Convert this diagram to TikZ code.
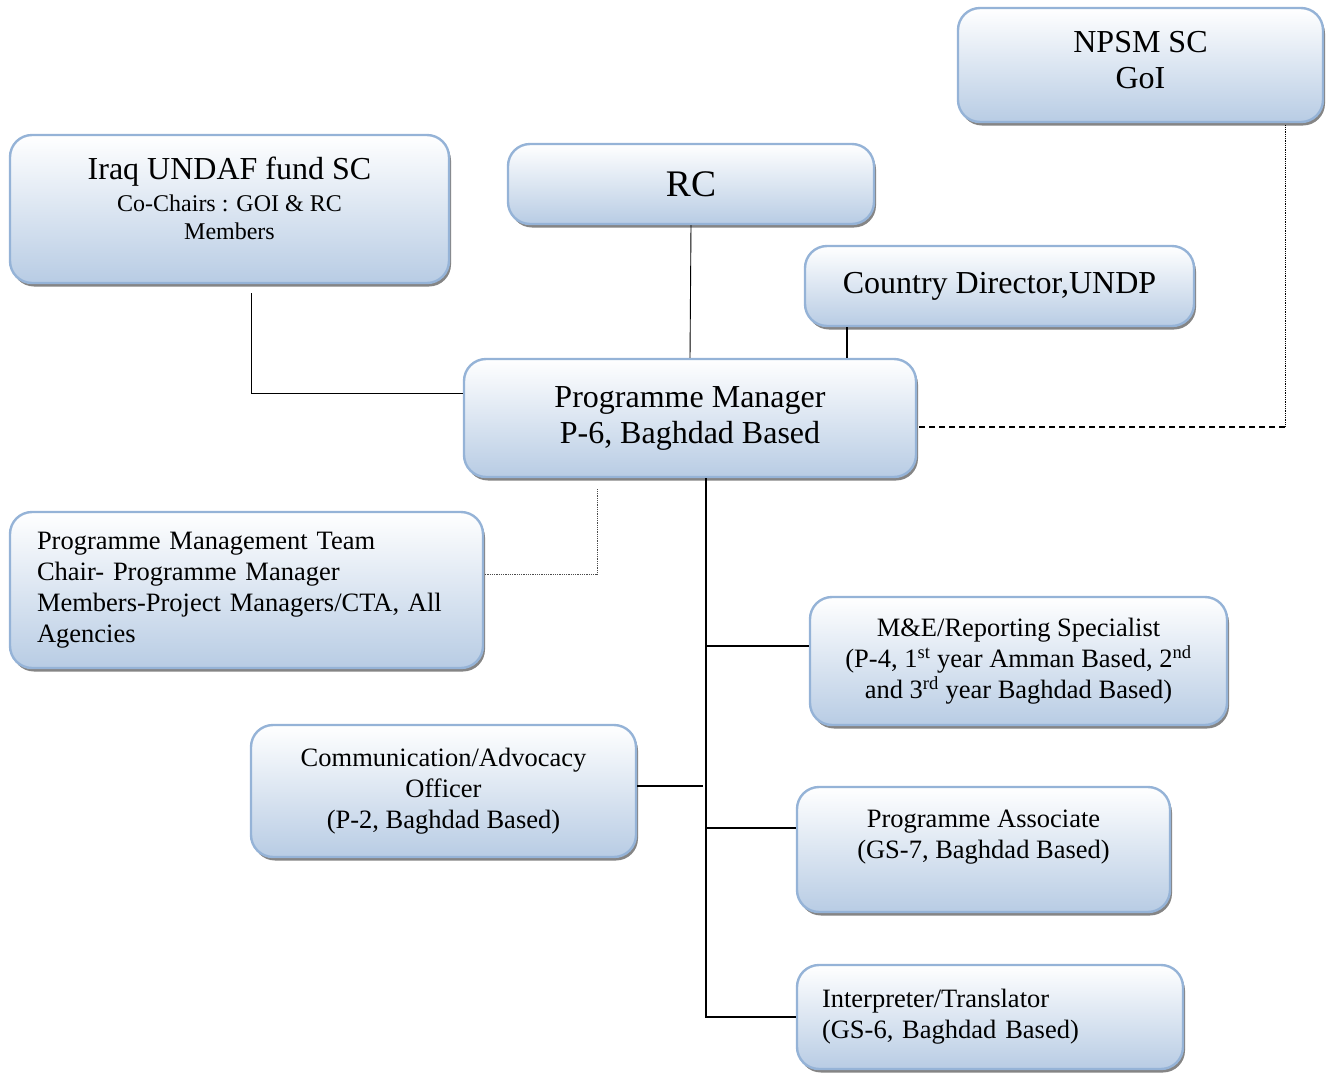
\documentclass[tikz,border=0pt]{standalone}
\usepackage{fontspec}
\setmainfont{Liberation Serif}
\usetikzlibrary{shadows}
\definecolor{boxline}{RGB}{149,179,215}
\definecolor{boxfill}{RGB}{184,204,228}
\begin{document}
\begin{tikzpicture}[x=1pt, y=-1pt,
    orgbox/.style={draw=boxline, line width=2.4pt, rounded corners=22pt,
        top color=white, bottom color=boxfill, inner sep=0pt, align=center,
        drop shadow={shadow xshift=2pt, shadow yshift=-3.5pt, fill=black!60, opacity=.8}},
    headtxt/.style={font=\fontsize{32}{36}\selectfont},
    roletxt/.style={font=\fontsize{26.5}{31}\selectfont},
    link/.style={line width=1.3pt},
    thinlink/.style={line width=0.9pt},
    dotlink/.style={line width=0.8pt, densely dotted}]
    \useasboundingbox (0,0) rectangle (1331,1072);
    % steering side
    \node[orgbox, headtxt, minimum width=365pt, minimum height=114pt] (npsm) at (1140.5,65) {NPSM SC\\GoI\\[-26pt]\mbox{}};
    \node[orgbox, minimum width=439pt, minimum height=148pt, font=\fontsize{24}{28}\selectfont] (undaf) at (229.5,209)
        {{\fontsize{32}{36}\selectfont Iraq UNDAF fund SC}\\[4pt]Co-Chairs : GOI \& RC\\Members\\[-6pt]\mbox{}};
    \node[orgbox, minimum width=366pt, minimum height=80pt, font=\fontsize{37.5}{40}\selectfont] (rc) at (691,184) {RC};
    \node[orgbox, headtxt, minimum width=389pt, minimum height=80pt] (cd) at (999.5,286) {Country Director,UNDP};
    \node[orgbox, headtxt, minimum width=452pt, minimum height=118pt] (pm) at (690,418) {Programme Manager\\P-6, Baghdad Based};
    % team
    \node[orgbox, roletxt, minimum width=473pt, minimum height=156pt, text width=419pt, align=left] (pmt) at (246.5,590)
        {Programme Management Team\\Chair- Programme Manager\\Members-Project Managers/CTA, All\\Agencies};
    \node[orgbox, roletxt, minimum width=417pt, minimum height=128pt] (me) at (1018.5,661)
        {M\&E/Reporting Specialist\\(P-4, 1\textsuperscript{st} year Amman Based, 2\textsuperscript{nd}\\and 3\textsuperscript{rd} year Baghdad Based)};
    \node[orgbox, roletxt, minimum width=385pt, minimum height=132pt] (comm) at (443.5,791)
        {Communication/Advocacy\\Officer\\(P-2, Baghdad Based)};
    \node[orgbox, roletxt, minimum width=373pt, minimum height=125pt] (pa) at (983.5,849.5)
        {Programme Associate\\(GS-7, Baghdad Based)\\\mbox{}};
    \node[orgbox, roletxt, minimum width=386pt, minimum height=104pt, text width=336pt, align=left] (interp) at (990,1017)
        {Interpreter/Translator\\(GS-6, Baghdad Based)};

    % reporting lines
    \draw[thinlink] ([xshift=21.5pt, yshift=-9pt]undaf.south) |- ([yshift=25pt]pm.west);
    \draw[thinlink] (rc.south) -- (pm.north);
    \coordinate (cdfoot) at ([xshift=-152.5pt]cd.south);
    \draw[link] (cdfoot) -- (cdfoot |- pm.north);
    \coordinate (npsmfoot) at ([xshift=144.5pt, yshift=-2pt]npsm.south);
    \coordinate (pmdash) at ([yshift=-9pt]pm.east);
    \draw[dotlink] (npsmfoot) -- (npsmfoot |- pmdash);
    \draw[line width=1.2pt, dash pattern=on 6pt off 4pt] (npsmfoot |- pmdash) -- (pmdash);
    \coordinate (pmdot) at ([xshift=-93pt, yshift=-11pt]pm.south);
    \draw[dotlink, black!70] (pmdot) |- ([yshift=16pt]pmt.east);
    % staff trunk
    \coordinate (trunk) at ([xshift=16pt]pm.south);
    \draw[link] (trunk) -- (trunk |- interp.west) -- (interp.west);
    \coordinate (metap) at ([yshift=15pt]me.west);
    \draw[link] (metap) -- (metap -| trunk);
    \coordinate (patap) at ([yshift=21.5pt]pa.west);
    \draw[link] (patap) -- (patap -| trunk);
    \coordinate (commtap) at ([yshift=5pt]comm.east);
    \draw[link] (commtap) -- ([xshift=-3pt]commtap -| trunk);
\end{tikzpicture}
\end{document}
